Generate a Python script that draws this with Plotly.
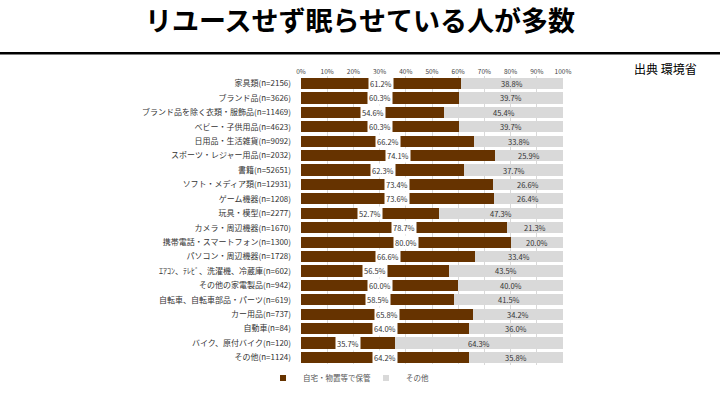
import plotly.graph_objects as go

categories = [
    "家具類(n=2156)", "ブランド品(n=3626)", "ブランド品を除く衣類・服飾品(n=11469)",
    "ベビー・子供用品(n=4623)", "日用品・生活雑貨(n=9092)", "スポーツ・レジャー用品(n=2032)",
    "書籍(n=52651)", "ソフト・メディア類(n=12931)", "ゲーム機器(n=1208)", "玩具・模型(n=2277)",
    "カメラ・周辺機器(n=1670)", "携帯電話・スマートフォン(n=1300)", "パソコン・周辺機器(n=1728)",
    "ｴｱｺﾝ、ﾃﾚﾋﾞ、洗濯機、冷蔵庫(n=602)", "その他の家電製品(n=942)", "自転車、自転車部品・パーツ(n=619)",
    "カー用品(n=737)", "自動車(n=84)", "バイク、原付バイク(n=120)", "その他(n=1124)",
]
stored = [61.2, 60.3, 54.6, 60.3, 66.2, 74.1, 62.3, 73.4, 73.6, 52.7,
          78.7, 80.0, 66.6, 56.5, 60.0, 58.5, 65.8, 64.0, 35.7, 64.2]
other = [38.8, 39.7, 45.4, 39.7, 33.8, 25.9, 37.7, 26.6, 26.4, 47.3,
         21.3, 20.0, 33.4, 43.5, 40.0, 41.5, 34.2, 36.0, 64.3, 35.8]
series_names = ["自宅・物置等で保管", "その他"]
tick_vals = [0, 10, 20, 30, 40, 50, 60, 70, 80, 90, 100]
tick_text = [f"{v}%" for v in tick_vals]
title_text = "リユースせず眠らせている人が多数"
source_text = "出典 環境省"

FONT = "Noto Sans CJK JP"
BROWN = "#663300"
GRAY = "#d9d9d9"
colors = [BROWN, GRAY]

fig = go.Figure()
for name, vals, col in zip(series_names, [stored, other], colors):
    fig.add_trace(go.Bar(y=categories, x=vals, name=name, orientation="h",
                         marker=dict(color=col, line=dict(width=0)), showlegend=False))
for name, col in zip(series_names, colors):
    fig.add_trace(go.Scatter(x=[None], y=[None], mode="markers", name=name,
                             marker=dict(symbol="square", size=6, color=col)))

annotations = []
for c, s, o in zip(categories, stored, other):
    annotations.append(dict(x=s / 2, y=c, xref="x", yref="y", text=f"{s:.1f}%",
                            showarrow=False, bgcolor="white", borderpad=1,
                            font=dict(family=FONT, size=7.5, color="#333333")))
    annotations.append(dict(x=s + o / 2, y=c, xref="x", yref="y", text=f"{o:.1f}%",
                            showarrow=False,
                            font=dict(family=FONT, size=7.5, color="#333333")))
annotations.append(dict(x=1.0, xref="paper", xanchor="left", xshift=69,
                        y=(380 - 68) / 304, yref="paper", yanchor="middle",
                        text=source_text, showarrow=False,
                        font=dict(family=FONT, size=12, color="black")))

fig.update_layout(
    width=720, height=405,
    margin=dict(l=301, r=157, t=76, b=25),
    paper_bgcolor="white", plot_bgcolor="white",
    barmode="stack", bargap=0.22,
    font=dict(family=FONT, color="#333333"),
    title=dict(text=f"<b>{title_text}</b>", x=0.5, xanchor="center",
               y=1 - 22 / 405, yanchor="middle", yref="container",
               font=dict(family=FONT, size=27, color="black")),
    xaxis=dict(side="top", range=[0, 100], tickvals=tick_vals, ticktext=tick_text,
               tickfont=dict(family=FONT, size=6.5, color="#444444"),
               showgrid=True, gridcolor="#d9d9d9", gridwidth=1,
               zeroline=False, showline=False, ticks="", fixedrange=True),
    yaxis=dict(autorange="reversed", tickfont=dict(family=FONT, size=8, color="#333333"),
               ticks="", ticklabelstandoff=9, showgrid=False, fixedrange=True),
    legend=dict(orientation="h", x=-0.145, xanchor="left", y=-0.045, yanchor="middle",
                font=dict(family=FONT, size=7.5, color="#555555"),
                traceorder="normal", itemwidth=30,
                entrywidth=58, entrywidthmode="pixels"),
    annotations=annotations,
    shapes=[dict(type="line", xref="paper", yref="paper",
                 x0=-301 / 262, x1=(720 - 301) / 262,
                 y0=(380 - 52) / 304, y1=(380 - 52) / 304,
                 line=dict(color="black", width=2.5))],
)
fig.write_html("out.html", config={"displayModeBar": False},
               post_script="document.body.style.margin='0';")
